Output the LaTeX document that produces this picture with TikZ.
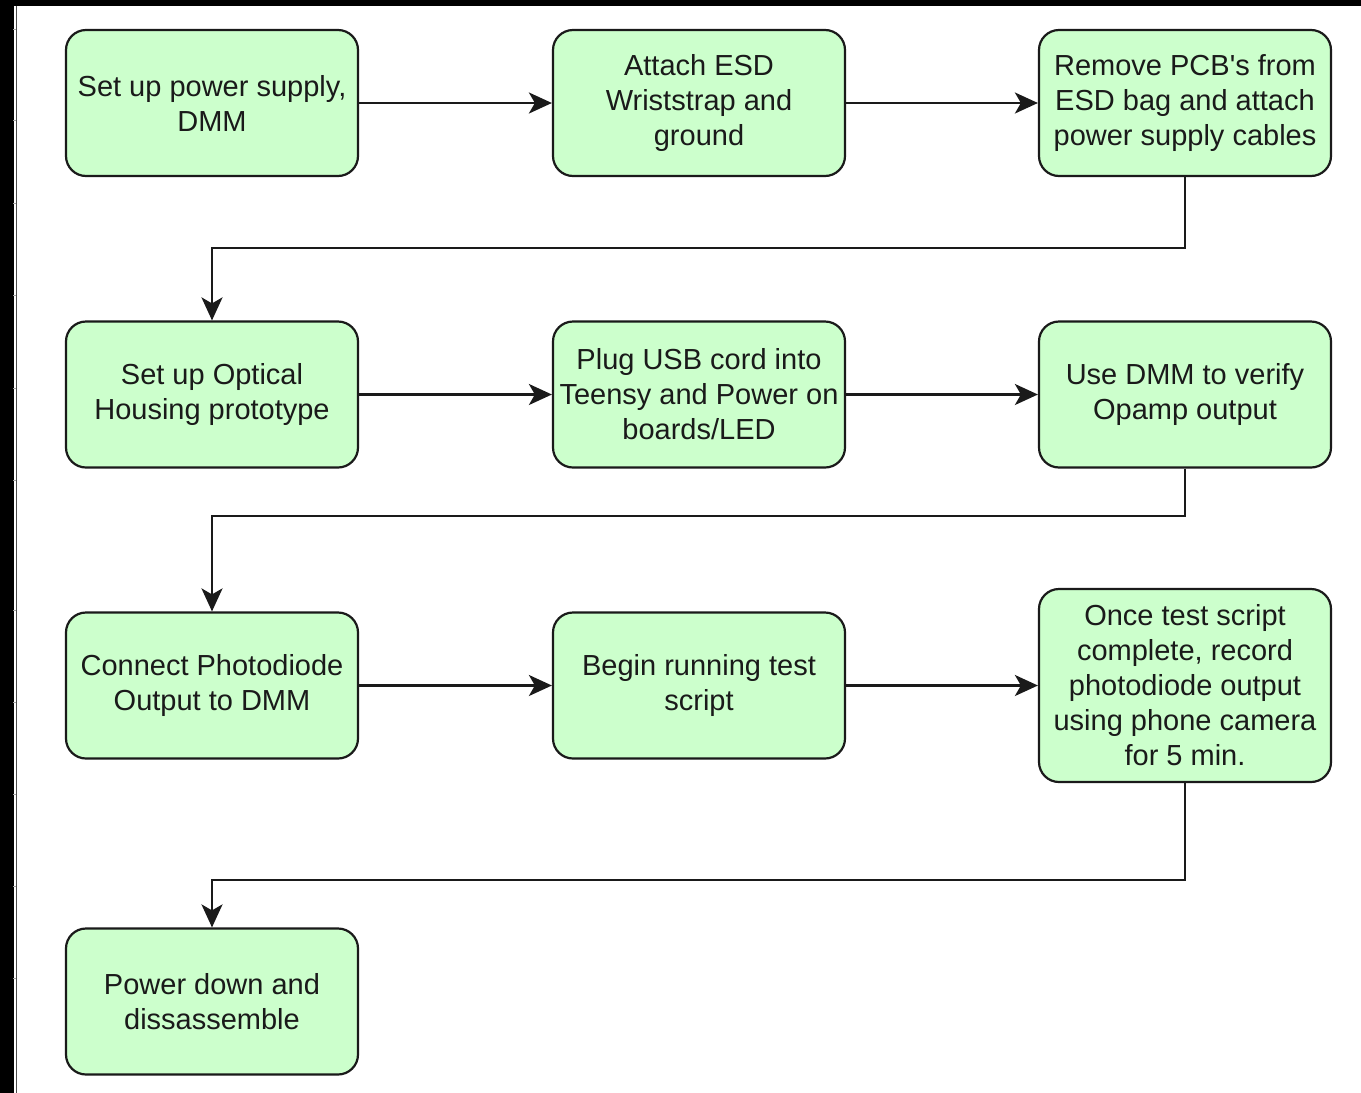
\documentclass[tikz,border=0pt]{standalone}
\usepackage{fontspec}
\setmainfont{Liberation Sans}[Ligatures=TeXOff]
\usetikzlibrary{arrows.meta}
\definecolor{boxfill}{HTML}{CCFFCC}
\definecolor{ink}{HTML}{1A1A1A}
\tikzset{
  stepbox/.style={draw=ink, line width=2.2pt, fill=boxfill, rounded corners=20pt,
    minimum width=292pt, minimum height=146pt, inner sep=2pt, align=center,
    text=ink, font=\fontsize{29}{35}\selectfont},
  flow/.style={draw=ink, line width=2.4pt,
    -{Stealth[length=23pt, width=21pt, inset=6pt]}},
}
\begin{document}
\begin{tikzpicture}[x=1pt, y=-1pt]
  % canvas
  \fill[white] (0,0) rectangle (1361,1093);
  \useasboundingbox (0,0) rectangle (1361,1093);
  % window edge
  \fill[black] (0,0) rectangle (1361,6);
  \fill[black] (0,0) rectangle (14,1093);
  \draw[gray!60!black, line width=1.6pt] (16.5,6) -- (16.5,1093);
  \foreach \ty in {29,120,203,295,388,480,610,702,794,886,978}
    \draw[gray!70, line width=1pt] (13,\ty) -- (16,\ty);

  % row 1
  \node[stepbox] (b1) at (212,103) {Set up power supply,\\DMM};
  \node[stepbox] (b2) at (699,103) {Attach ESD\\Wriststrap and\\ground};
  \node[stepbox] (b3) at (1185,103) {Remove PCB's from\\ESD bag and attach\\power supply cables};
  % row 2
  \node[stepbox] (b4) at (212,394.5) {Set up Optical\\Housing prototype};
  \node[stepbox] (b5) at (699,394.5) {Plug USB cord into\\Teensy and Power on\\boards/LED};
  \node[stepbox] (b6) at (1185,394.5) {Use DMM to verify\\Opamp output};
  % row 3
  \node[stepbox] (b7) at (212,685.5) {Connect Photodiode\\Output to DMM};
  \node[stepbox] (b8) at (699,685.5) {Begin running test\\script};
  \node[stepbox, minimum height=193pt] (b9) at (1185,685.5)
    {Once test script\\complete, record\\photodiode output\\using phone camera\\for 5 min.};
  % row 4
  \node[stepbox] (b10) at (212,1001.5) {Power down and\\dissassemble};

  % bends between rows
  \coordinate (m1) at (212,248);
  \coordinate (m2) at (212,516);
  \coordinate (m3) at (212,880);

  % connectors
  \draw[flow] (b1) -- (b2);
  \draw[flow] (b2) -- (b3);
  \draw[flow] (b3.south) |- (m1) -- (b4.north);
  \draw[flow] (b4) -- (b5);
  \draw[flow] (b5) -- (b6);
  \draw[flow] (b6.south) |- (m2) -- (b7.north);
  \draw[flow] (b7) -- (b8);
  \draw[flow] (b8) -- (b9);
  \draw[flow] (b9.south) |- (m3) -- (b10.north);
\end{tikzpicture}
\end{document}
